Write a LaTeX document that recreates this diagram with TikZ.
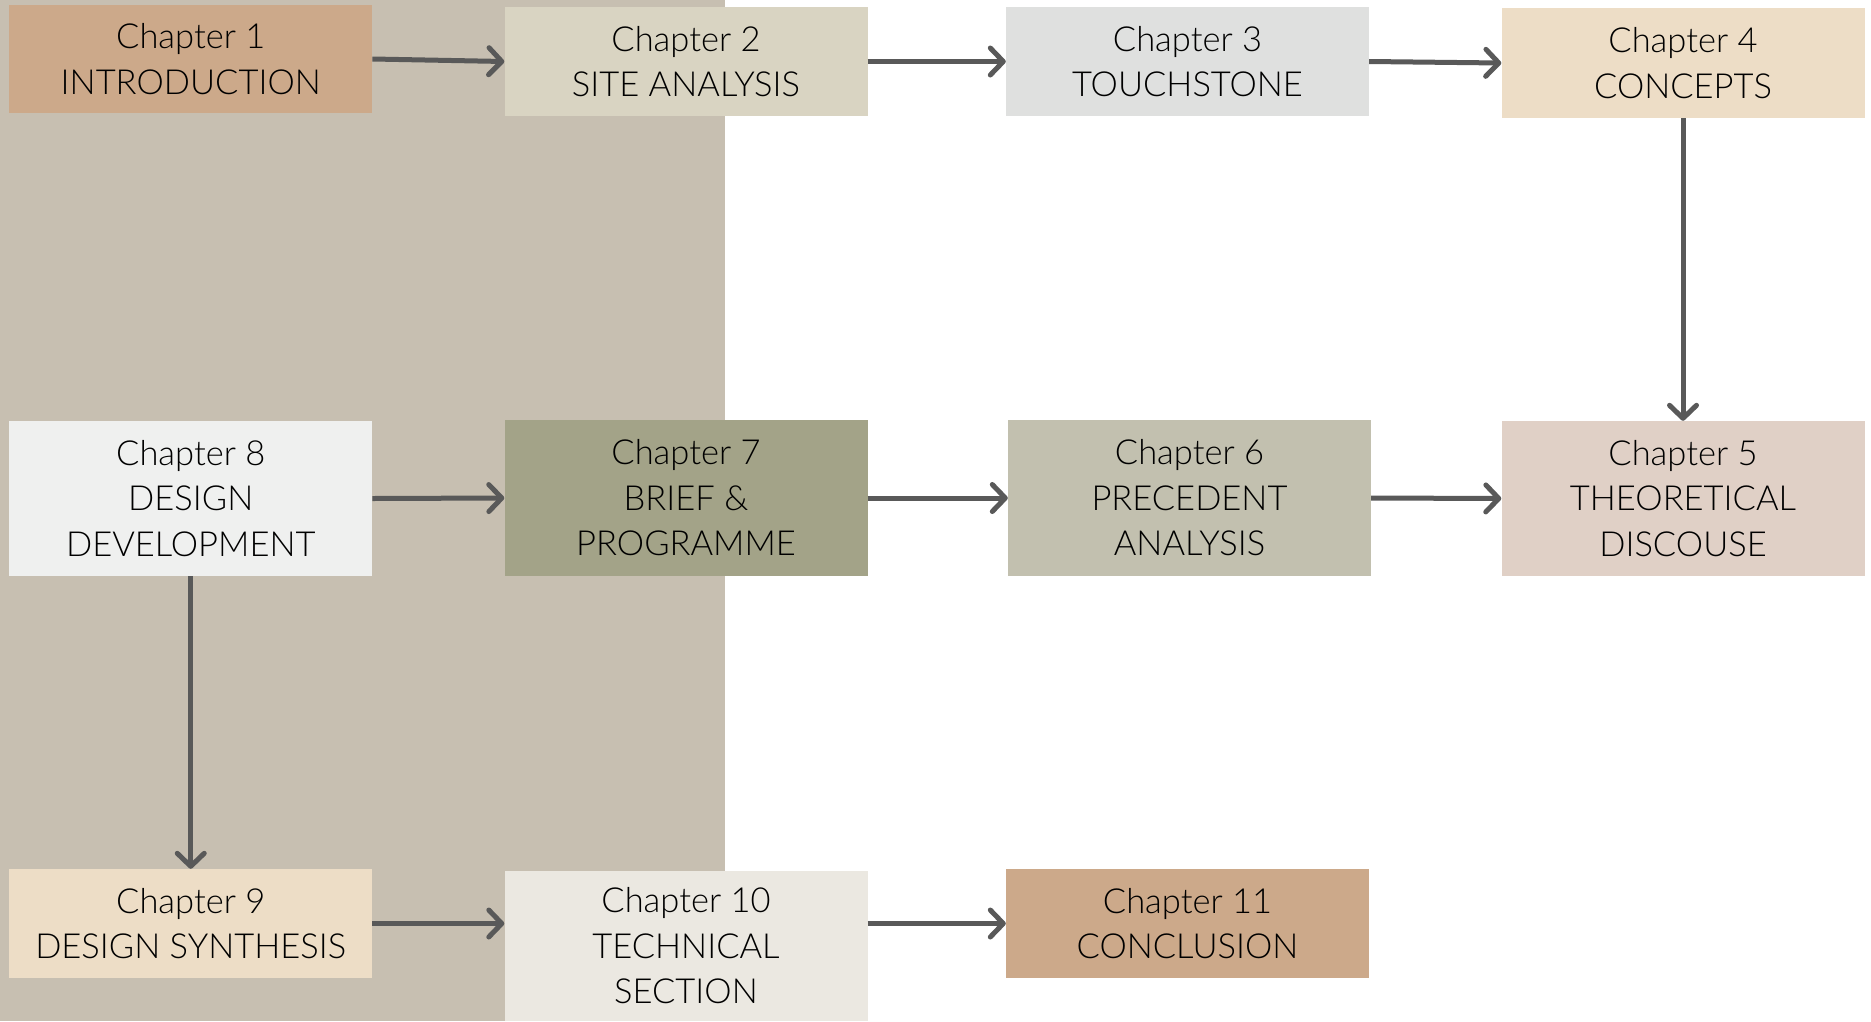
\documentclass[tikz,border=0pt]{standalone}
\usepackage{fontspec}
\IfFontExistsTF{Lato Light}{\setmainfont{Lato Light}}{\setmainfont{Open Sans}}
\usetikzlibrary{arrows.meta,calc}
\definecolor{bgpanel}{HTML}{C7BFB1}
\definecolor{cA}{HTML}{CCA98A}
\definecolor{cB}{HTML}{D9D4C2}
\definecolor{cC}{HTML}{DFE0DF}
\definecolor{cD}{HTML}{EDDDC6}
\definecolor{cE}{HTML}{E0D0C6}
\definecolor{cF}{HTML}{C2C0AF}
\definecolor{cG}{HTML}{A3A388}
\definecolor{cH}{HTML}{EFF0EF}
\definecolor{cJ}{HTML}{EBE8E1}
\definecolor{arrowgray}{HTML}{595959}
\begin{document}
\begin{tikzpicture}[x=1pt,y=-1pt,
  box/.style={inner sep=0pt, align=center, minimum width=363pt,
    font=\fontsize{34.5}{45.5}\selectfont, text=black},
  flow/.style={draw=arrowgray, line width=5pt,
    -{Straight Barb[length=13pt,width=27pt,line cap=round,round]}}]
\useasboundingbox (0,0) rectangle (1871,1021);
\fill[white] (0,0) rectangle (1871,1021);
\fill[bgpanel] (0,0) rectangle (725,1021);
% row 1
\node[box, fill=cA, minimum height=108pt] (b1) at (190.75,59) {Chapter 1\\INTRODUCTION};
\node[box, fill=cB, minimum height=109pt] (b2) at (686,61.5) {Chapter 2\\SITE ANALYSIS};
\node[box, fill=cC, minimum height=109pt] (b3) at (1187.5,61.5) {Chapter 3\\TOUCHSTONE};
\node[box, fill=cD, minimum height=110pt] (b4) at (1683,63) {Chapter 4\\CONCEPTS};
% row 2
\node[box, fill=cH, minimum height=155pt] (b8) at (190.75,498.5) {Chapter 8\\DESIGN\\DEVELOPMENT};
\node[box, fill=cG, minimum height=156pt] (b7) at (686,498) {Chapter 7\\BRIEF \&\\PROGRAMME};
\node[box, fill=cF, minimum height=156pt] (b6) at (1189.5,498) {Chapter 6\\PRECEDENT\\ANALYSIS};
\node[box, fill=cE, minimum height=155pt] (b5) at (1683,498.5) {Chapter 5\\THEORETICAL\\DISCOUSE};
% row 3
\node[box, fill=cD, minimum height=109pt] (b9) at (190.75,923.5) {Chapter 9\\DESIGN SYNTHESIS};
\node[box, fill=cJ, minimum height=150pt] (b10) at (686,946) {Chapter 10\\TECHNICAL\\SECTION};
\node[box, fill=cA, minimum height=109pt] (b11) at (1187.5,923.5) {Chapter 11\\CONCLUSION};
% connectors
\draw[flow] (b1.east) -- (b2.west);
\draw[flow] (b2.east) -- (b3.west);
\draw[flow] (b3.east) -- (b4.west);
\draw[flow] (b4.south) -- (b5.north);
\draw[flow] (b8.east) -- (b7.west);
\draw[flow] (b7.east) -- (b6.west);
\draw[flow] (b6.east) -- (b5.west);
\draw[flow] (b8.south) -- (b9.north);
\draw[flow] (b9.east) -- (b9.east -| b10.west);
\draw[flow] (b11.west -| b10.east) -- (b11.west);
\end{tikzpicture}
\end{document}
